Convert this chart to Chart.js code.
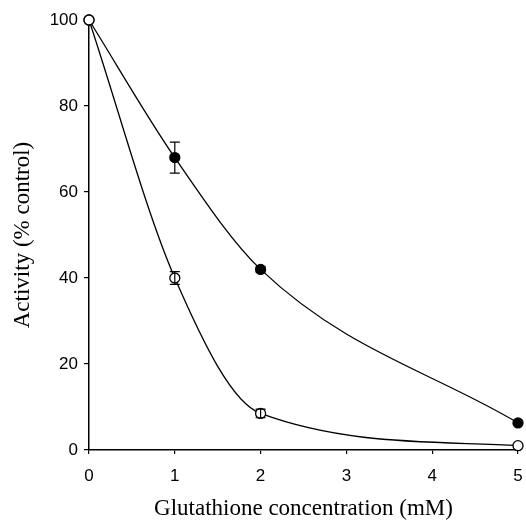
<!DOCTYPE html>
<html>
<head>
<meta charset="utf-8">
<script src="https://cdn.jsdelivr.net/npm/chart.js@4/dist/chart.umd.min.js"></script>
<style>
  html, body { margin: 0; padding: 0; background: #fff; }
  #wrap { width: 526px; height: 523px; }
</style>
</head>
<body>
<div id="wrap"><canvas id="gshChart" width="526" height="523"></canvas></div>
<script>
// data
const concentration = [0, 1, 2, 5];
const openActivity = [100, 40, 8.5, 1];      // open circles
const openError = [0, 1.5, 1, 0];
const filledActivity = [100, 68, 42, 6.3];   // filled circles
const filledError = [0, 3.6, 0.6, 0];
const xTicks = [0, 1, 2, 3, 4, 5];
const yTicks = [0, 20, 40, 60, 80, 100];

const toPoints = vals => concentration.map((c, i) => ({ x: c, y: vals[i] }));

// draws the vertical error bars with caps
const errorBars = {
  id: 'errorBars',
  afterDatasetsDraw(chart) {
    const { ctx, scales } = chart;
    ctx.save();
    ctx.strokeStyle = '#000';
    ctx.lineWidth = 1.2;
    chart.data.datasets.forEach(ds => {
      if (!ds.errors) return;
      ds.data.forEach((p, i) => {
        const e = ds.errors[i];
        if (!e) return;
        const x = scales.x.getPixelForValue(p.x);
        const yTop = scales.y.getPixelForValue(p.y + e);
        const yBot = scales.y.getPixelForValue(p.y - e);
        ctx.beginPath();
        ctx.moveTo(x, yTop); ctx.lineTo(x, yBot);
        ctx.moveTo(x - 5, yTop); ctx.lineTo(x + 5, yTop);
        ctx.moveTo(x - 5, yBot); ctx.lineTo(x + 5, yBot);
        ctx.stroke();
      });
    });
    ctx.restore();
  }
};

const ctx = document.getElementById('gshChart').getContext('2d');
const chart = new Chart(ctx, {
  type: 'line',
  data: {
    datasets: [{
      label: 'open',
      data: toPoints(openActivity),
      errors: openError,
      borderColor: '#000',
      borderWidth: 1.3,
      pointBackgroundColor: '#fff',
      pointBorderColor: '#000',
      pointBorderWidth: 1.3,
      pointRadius: 5,
      cubicInterpolationMode: 'monotone',
      clip: false
    }, {
      label: 'filled',
      data: toPoints(filledActivity),
      errors: filledError,
      borderColor: '#000',
      borderWidth: 1.3,
      pointBackgroundColor: '#000',
      pointBorderColor: '#000',
      pointRadius: 5,
      cubicInterpolationMode: 'monotone',
      clip: false
    }]
  },
  options: {
    responsive: false,
    animation: false,
    layout: { padding: { top: 20, right: 8, left: 0, bottom: 0 } },
    plugins: { legend: { display: false }, tooltip: { enabled: false } },
    scales: {
      x: {
        type: 'linear',
        min: 0,
        max: 5,
        afterBuildTicks: s => { s.ticks = xTicks.map(v => ({ value: v })); },
        afterFit: s => { s.height = 73; s.paddingLeft = 0; s.paddingRight = 0; },
        grid: { drawOnChartArea: false, tickLength: 4, color: '#000', lineWidth: 1.2 },
        border: { color: '#000', width: 1.5 },
        ticks: { color: '#000', padding: 12, font: { family: 'Liberation Sans', size: 17 } },
        title: {
          display: true,
          text: 'Glutathione concentration (mM)',
          color: '#000',
          padding: { top: 0, bottom: 0 },
          font: { family: 'Liberation Serif', size: 23 }
        }
      },
      y: {
        min: 0,
        max: 100,
        afterBuildTicks: s => { s.ticks = yTicks.map(v => ({ value: v })); },
        afterFit: s => { s.width = 89; s.paddingTop = 0; s.paddingBottom = 0; },
        grid: { drawOnChartArea: false, tickLength: 5, color: '#000', lineWidth: 1.2 },
        border: { color: '#000', width: 1.5 },
        ticks: { color: '#000', padding: 6, font: { family: 'Liberation Sans', size: 17 } },
        title: {
          display: true,
          text: 'Activity (% control)',
          color: '#000',
          padding: { top: 9, bottom: 0 },
          font: { family: 'Liberation Serif', size: 23 }
        }
      }
    }
  },
  plugins: [errorBars]
});
</script>
</body>
</html>
